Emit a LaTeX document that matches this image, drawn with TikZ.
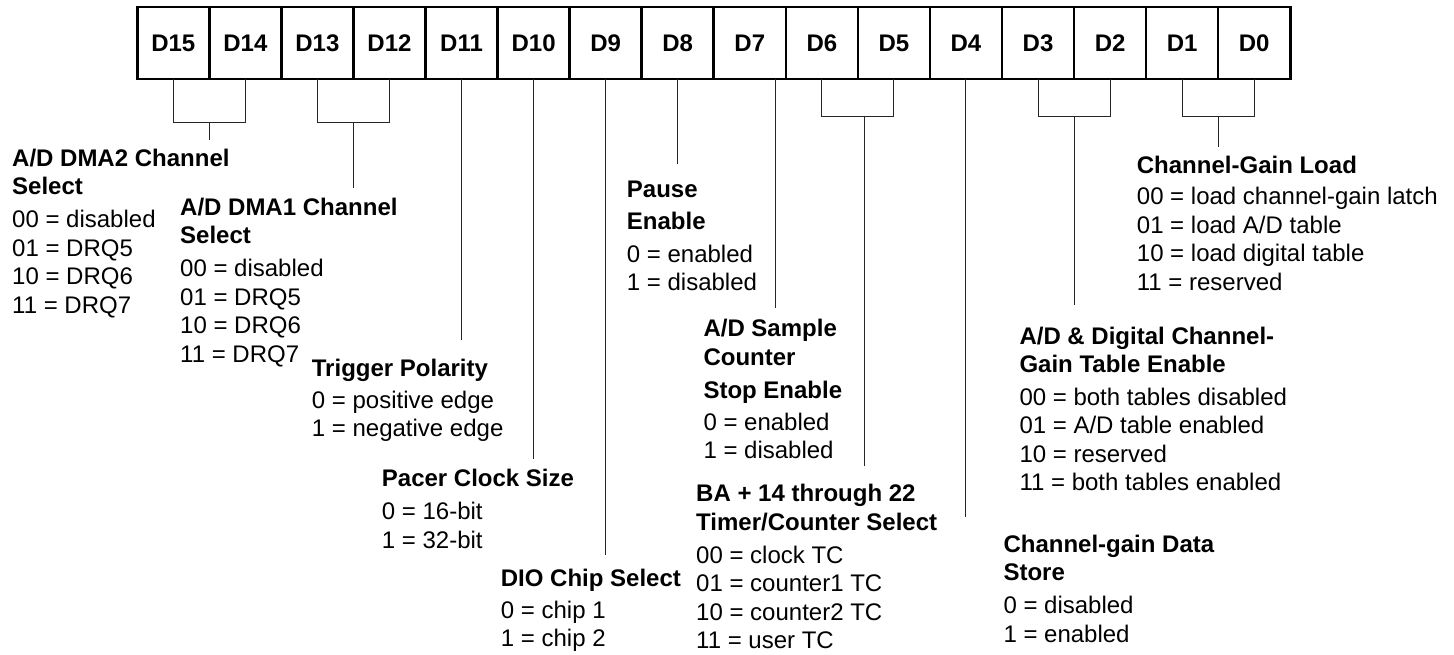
\documentclass[tikz,border=0pt]{standalone}
\usepackage{fontspec}
\setmainfont{Liberation Sans}
\usetikzlibrary{positioning, calc}

\begin{document}
\begin{tikzpicture}[
        x=1pt, y=-1pt,
        bitcell/.style={draw=black, line width=2.6pt, minimum width=72.06pt, minimum height=72pt, inner sep=0pt, outer sep=0pt, font=\fontsize{24}{28}\selectfont\bfseries},
        wire/.style={draw=black!85, line width=1pt},
        field/.style={anchor=north west, align=left, inner sep=0pt, font=\fontsize{24}{28.5}\selectfont}
    ]
        \useasboundingbox (0,0) rectangle (1454,654);

        % register bits
        \foreach \b [count=\i from 0] in {15,14,...,0}
            \node[bitcell] (d\b) at ({173.3+72.06*\i}, 43) {D\b};

        % field descriptions
        \node[field] (dmaB) at (12, 148.5) {\textbf{A/D DMA2 Channel}\\\textbf{Select}\\[4.5pt]00 = disabled\\01 = DRQ5\\10 = DRQ6\\11 = DRQ7};
        \node[field] (dmaA) at (180, 197.5) {\textbf{A/D DMA1 Channel}\\\textbf{Select}\\[4.5pt]00 = disabled\\01 = DRQ5\\10 = DRQ6\\11 = DRQ7};
        \node[field] (trig) at (311.7, 359.2) {\textbf{Trigger Polarity}\\[3pt]0 = positive edge\\1 = negative edge};
        \node[field] (pacer) at (381.7, 469.2) {\textbf{Pacer Clock Size}\\[4.5pt]0 = 16-bit\\1 = 32-bit};
        \node[field] (dio) at (500.7, 569.2) {\textbf{DIO Chip Select}\\[3pt]0 = chip 1\\1 = chip 2};
        \node[field] (pause) at (626.7, 180.8) {\textbf{Pause}\\[3pt]\textbf{Enable}\\[4.5pt]0 = enabled\\1 = disabled};
        \node[field] (sample) at (703.3, 319.2) {\textbf{A/D Sample}\\\textbf{Counter}\\[5pt]\textbf{Stop Enable}\\[3pt]0 = enabled\\1 = disabled};
        \node[field] (tcsel) at (696, 484.2) {\textbf{BA + 14 through 22}\\\textbf{Timer/Counter Select}\\[4.5pt]00 = clock TC\\01 = counter1 TC\\10 = counter2 TC\\11 = user TC};
        \node[field] (cgstore) at (1003.3, 534.5) {\textbf{Channel-gain Data}\\\textbf{Store}\\[4.5pt]0 = disabled\\1 = enabled};
        \node[field] (cgtable) at (1019.3, 326.5) {\textbf{A/D \& Digital Channel-}\\\textbf{Gain Table Enable}\\[4pt]00 = both tables disabled\\01 = A/D table enabled\\10 = reserved\\11 = both tables enabled};
        \node[field] (cgload) at (1136.7, 155.8) {\textbf{Channel-Gain Load}\\[3pt]00 = load channel-gain latch\\01 = load A/D table\\10 = load digital table\\11 = reserved};

        % brackets over paired bits
        \draw[wire] (d15.south) -- ++(0,43) -| (d14.south);
        \draw[wire] (d13.south) -- ++(0,43) -| (d12.south);
        \draw[wire] (d6.south) -- ++(0,37) -| (d5.south);
        \draw[wire] (d3.south) -- ++(0,37) -| (d2.south);
        \draw[wire] (d1.south) -- ++(0,37) -| (d0.south);

        \coordinate (j15) at ($(d15.south)!.5!(d14.south)+(0,43)$);
        \coordinate (j13) at ($(d13.south)!.5!(d12.south)+(0,43)$);
        \coordinate (j6) at ($(d6.south)!.5!(d5.south)+(7,37)$);
        \coordinate (j3) at ($(d3.south)!.5!(d2.south)+(0,37)$);
        \coordinate (j1) at ($(d1.south)!.5!(d0.south)+(0,37)$);
        \coordinate (b7) at ([xshift=-10pt]d7.south east);

        % leader lines down to the descriptions
        \foreach \src/\stop [count=\k] in {j15/140, j13/188, d11.south/340, d10.south/459, d9.south/555, d8.south/164, b7/308, j6/466, d4.south/517, j3/305, j1/147} {
            \coordinate (e\k) at (\src |- 0,\stop);
            \draw[wire] (\src) -- (e\k);
        }
    \end{tikzpicture}
\end{document}
